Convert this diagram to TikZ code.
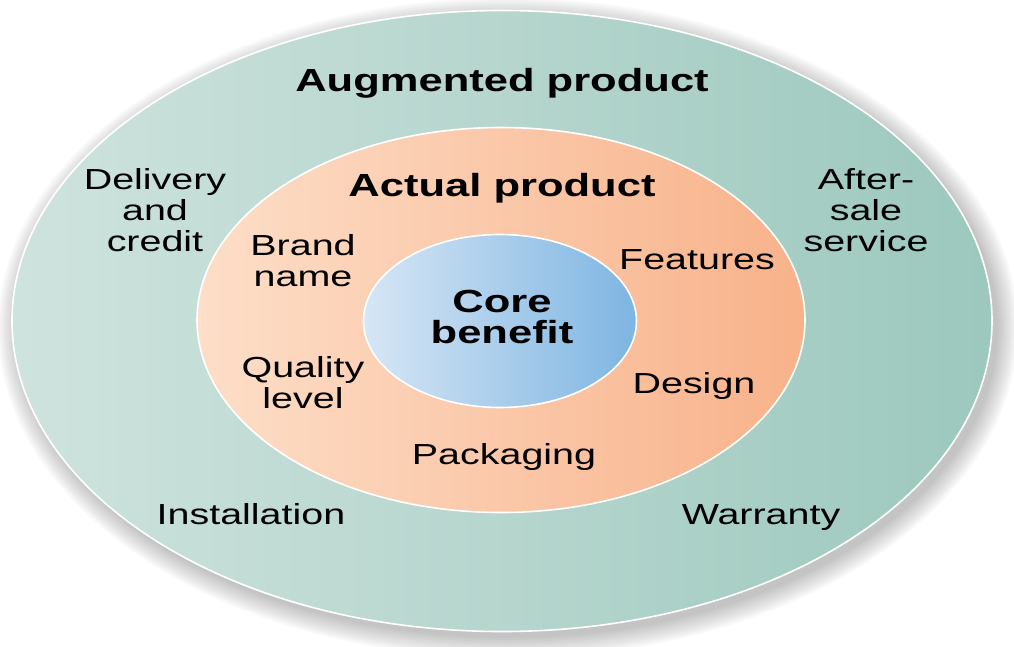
\documentclass[tikz,border=0pt]{standalone}
\usepackage{fontspec}
\setmainfont{Liberation Sans}
\usetikzlibrary{shapes.geometric}
\definecolor{outerL}{RGB}{207,227,222}
\definecolor{outerR}{RGB}{156,200,189}
\definecolor{midL}{RGB}{253,222,200}
\definecolor{midR}{RGB}{248,178,138}
\definecolor{coreL}{RGB}{214,230,245}
\definecolor{coreR}{RGB}{126,181,226}
\begin{document}
\begin{tikzpicture}[x=1pt,y=-1pt,
  ring/.style={ellipse, draw=white, line width=1.6pt, inner sep=0pt},
  lbl/.style={font=\fontsize{29}{31}\selectfont, align=center, inner sep=0pt, xscale=1.36},
  ttl/.style={font=\fontsize{32}{31}\selectfont\bfseries, align=center, inner sep=0pt, xscale=1.36}]
\useasboundingbox (0,0) rectangle (1014,646);

% soft drop shadow behind the outer ring
\foreach \k in {0,...,10}
  \fill[black, opacity=0.022] (508,328) ellipse [x radius={490pt+2pt*\k}, y radius={310pt+2pt*\k}];

% the three rings
\node[ring, minimum width=980pt, minimum height=621pt, left color=outerL, right color=outerR] (outer) at (502,321) {};
\node[ring, minimum width=608pt, minimum height=385pt, left color=midL, right color=midR] (actual) at (501,320) {};
\node[ring, minimum width=273pt, minimum height=173pt, left color=coreL, right color=coreR] (core) at (500,321) {};

% ring titles
\node[ttl, anchor=base] (augT) at (502,91) {Augmented product};
\node[ttl, anchor=base] (actT) at (502,196) {Actual product};
\node[ttl] (coreT) at (502,316.5) {Core\\benefit};

% augmented product items
\node[lbl] (delivery) at (155,210.5) {Delivery\\and\\credit};
\node[lbl] (aftersale) at (866,210.5) {After-\\sale\\service};
\node[lbl, anchor=base] (install) at (251,524) {Installation};
\node[lbl, anchor=base] (warranty) at (761,524) {Warranty};

% actual product items
\node[lbl] (brand) at (303,261) {Brand\\name};
\node[lbl, anchor=base] (features) at (697,269) {Features};
\node[lbl] (quality) at (303,383) {Quality\\level};
\node[lbl, anchor=base] (design) at (694,393) {Design};
\node[lbl, anchor=base] (packaging) at (504,464) {Packaging};
\end{tikzpicture}
\end{document}
